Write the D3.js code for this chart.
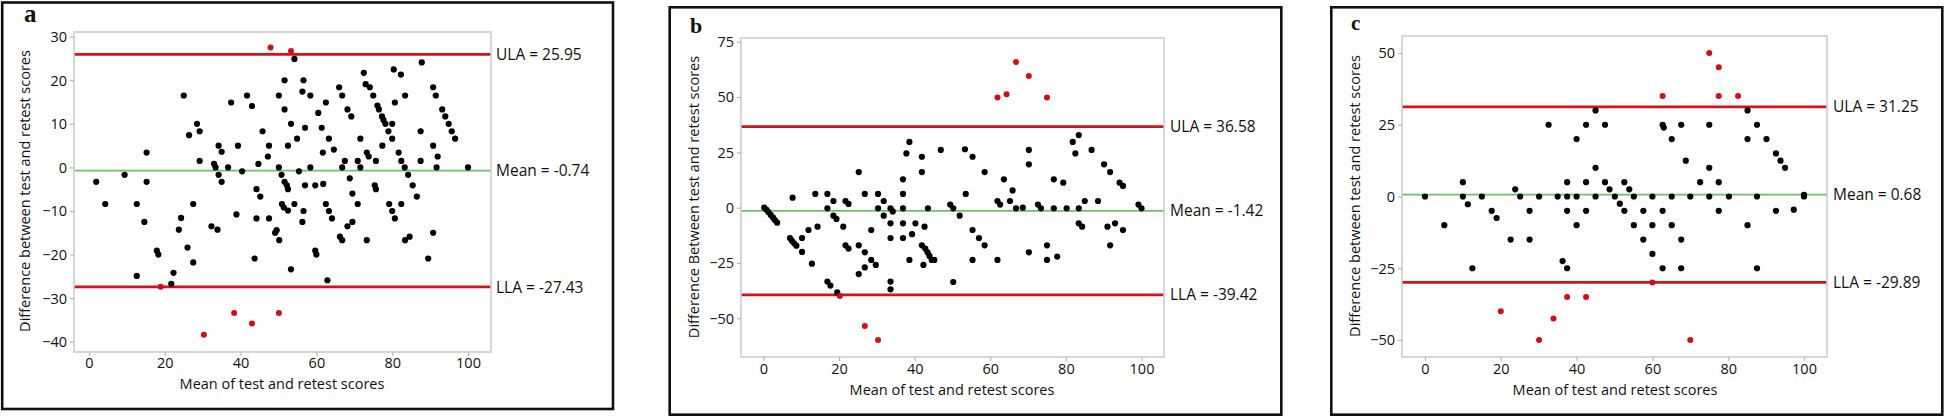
<!DOCTYPE html>
<html><head><meta charset="utf-8">
<script src="https://cdn.jsdelivr.net/npm/d3@7/dist/d3.min.js"></script>
<style>body{margin:0;background:#fff}svg{display:block}</style>
</head><body>
<svg id="chart" width="1946" height="418"></svg>
<script>
// ---------------- DATA ----------------
const xTicks = [0, 20, 40, 60, 80, 100];
const aYTicks = [-40, -30, -20, -10, 0, 10, 20, 30];
const bYTicks = [-50, -25, 0, 25, 50, 75];
const cYTicks = [-50, -25, 0, 25, 50];
const limitNames = ["ULA", "Mean", "LLA"];
const aLimits = [25.95, -0.74, -27.43];
const bLimits = [36.58, -1.42, -39.42];
const cLimits = [31.25, 0.68, -29.89];
const xTitle = "Mean of test and retest scores";
const aYTitle = "Difference between test and retest scores";
const bYTitle = "Difference Between test and retest scores";
const cYTitle = "Difference between test and retest scores";

// Panel a: [mean, difference]
const aRed = [[47.9,27.5],[53.3,26.7],[18.9,-27.4],[38.3,-33.4],[50.1,-33.4],[43.0,-35.8],[30.3,-38.4]];
const aBlack = [[1.9,-3.3],[4.3,-8.4],[9.4,-1.7],[12.6,-8.4],[12.6,-24.9],[14.6,-12.5],[15.2,3.4],[15.2,-3.3],
[17.9,-19.1],[18.3,-20.0],[21.7,-26.7],[22.3,-24.2],[23.7,-14.3],[24.3,-11.6],[25.0,16.5],[26.0,-18.4],[26.4,7.4],
[27.5,-8.4],[27.5,-21.8],[28.5,10.0],[29.2,8.3],[29.2,1.5],[32.3,-13.5],[33.0,0.8],[33.4,0],[33.9,-14.3],[34.2,5.0],
[34.2,-1.7],[35.0,3.6],[35.0,-3.3],[36.7,0],[37.5,14.9],[38.9,-10.8],[39.3,5.0],[40.4,-0.9],[41.7,16.5],[43.0,14.1],
[43.7,-20.9],[44.2,-5.0],[44.2,-11.7],[44.7,0.8],[45.2,-6.7],[45.8,8.3],[47.2,2.5],[47.5,5.0],[47.5,-11.7],[49.1,-15.0],
[49.5,-14.4],[50.1,16.5],[50.1,0],[50.2,-16.7],[50.8,-1.7],[50.9,-8.4],[51.4,-9.2],[51.6,20.0],[51.6,13.3],[51.6,-3.3],
[52.2,-4.1],[52.5,-5.0],[52.5,5.0],[52.5,-9.9],[53.3,10.0],[53.3,-23.4],[54.2,-8.4],[54.2,24.9],[54.9,6.6],[55.4,-0.9],
[56.3,17.4],[56.6,20.0],[56.6,-10.0],[56.3,-12.5],[57.0,9.1],[57.0,-4.1],[58.4,16.5],[58.4,0],[59.7,-4.1],[59.7,-19.1],
[60.0,-20.0],[60.5,12.5],[61.4,9.1],[61.7,3.4],[61.8,-3.8],[62.5,14.9],[62.5,-8.4],[62.9,-25.9],[63.3,6.6],[63.3,-10.0],
[64.1,-11.7],[64.6,4.1],[66.0,18.4],[66.2,-15.9],[66.8,-16.7],[66.8,16.5],[66.8,0],[67.5,1.5],[68.2,13.3],[68.2,-13.5],
[68.8,-2.5],[69.2,11.7],[69.5,-6.0],[69.5,-12.5],[70.9,-8.4],[70.9,1.5],[71.6,6.6],[71.6,0],[72.5,21.7],[73.0,19.1],
[73.3,-16.7],[73.3,3.4],[73.8,2.5],[74.1,18.4],[75.0,16.5],[75.4,-4.1],[75.7,-5.0],[75.7,1.5],[76.1,14.2],[76.5,13.3],
[77.3,11.7],[77.4,5.0],[77.7,10.9],[78.2,10.0],[79.0,8.3],[79.2,-8.4],[80.0,10.0],[80.0,6.6],[80.0,-10.0],[80.4,22.5],
[80.7,14.9],[80.7,-11.7],[81.7,3.4],[82.3,21.3],[82.4,1.5],[82.4,-8.4],[83.3,0],[83.4,16.5],[83.4,-16.7],[84.2,-1.7],
[84.6,-15.9],[85.4,-4.1],[86.5,-6.7],[87.5,8.3],[87.5,1.5],[87.8,24.1],[89.5,-20.9],[90.8,5.0],[90.8,18.4],[90.8,-15.0],
[91.5,16.5],[91.7,0],[92.0,2.5],[93.2,13.3],[94.0,11.7],[94.9,10.0],[95.7,8.3],[96.6,6.6],[100,0]];

// Panel b
const bRed = [[61.9,49.8],[64.3,51.3],[66.8,65.8],[70.2,59.5],[75.0,49.8],[20.2,-39.9],[26.8,-53.5],[30.3,-59.8]];
const bBlack = [[0.2,0],[0.8,-1],[1.3,-2],[1.9,-3.3],[2.5,-4.4],[3.0,-5.6],[3.6,-6.8],[7.7,4.5],[7.0,-13.7],[7.5,-14.9],
[8.1,-16.1],[8.7,-17.2],[10.2,-13.7],[10.2,-20],[11.9,-10.1],[12.8,-25.3],[13.7,6.2],[14.3,-8.6],[16.9,6.2],[16.9,-0.3],
[16.9,-33.4],[17.7,-35.2],[18.5,3.0],[18.5,-3.6],[19.3,-5.1],[19.5,-38.3],[21.1,-8.6],[21.7,3.0],[22.5,1.7],[21.7,-17.0],
[22.5,-18.5],[25.2,16.1],[25.2,-17.0],[25.2,-30.0],[26.8,6.2],[26.8,-20.2],[26.8,-27.0],[28.5,-10.1],[28.5,-23.6],
[29.7,-25.9],[30.3,6.2],[30.3,-0.3],[31.8,3.0],[31.8,-3.6],[33.6,-0.3],[33.6,-7.1],[33.6,-13.7],[33.6,-33.4],[33.6,-36.9],
[34.2,-1.7],[36.9,12.8],[36.9,6.2],[36.9,-0.3],[36.9,-7.1],[36.9,-13.7],[37.8,24.5],[38.6,29.7],[38.6,-23.6],[39.3,-12.0],
[40.2,-7.1],[41.9,23.0],[41.9,16.1],[41.9,-17.0],[42.6,-8.6],[42.3,-25.9],[42.8,-18.5],[43.4,-20.2],[43.5,-0.3],[43.9,-21.8],
[44.5,-23.6],[45.2,-23.6],[46.9,26.1],[49.4,1.4],[50.2,-0.3],[50.2,-33.6],[51.9,-3.6],[53.3,26.4],[53.5,6.2],[55.3,23.0],
[55.3,-10.1],[55.3,-23.6],[57.0,-13.7],[58.5,16.1],[58.5,-17.0],[61.9,3.0],[61.9,-23.6],[62.6,1.4],[63.6,12.8],[65.2,3.0],
[65.9,7.8],[66.8,-0.3],[68.6,0],[70.2,26.1],[70.2,19.6],[70.2,-20.2],[72.6,1.4],[73.4,-0.3],[75.0,-17.0],[75.0,-23.6],
[76.8,12.8],[76.8,-0.3],[77.7,-22.1],[79.3,11.3],[80.2,-0.3],[81.8,29.7],[82.5,24.5],[83.4,32.8],[83.4,-0.3],[83.4,-7.1],
[84.3,-8.6],[85.0,3.0],[86.8,26.1],[88.5,3.0],[90.1,19.6],[91.0,-8.6],[91.7,16.1],[91.7,-17.0],[93.0,-7.1],[94.2,11.3],
[95.1,9.8],[95.1,-10.1],[99.2,1.4],[100,-0.3]];

// Panel c
const cRed = [[75.0,50],[77.5,45],[62.7,35],[77.5,35],[82.6,35],[60.0,-30],[37.5,-35],[42.5,-35],[20.0,-40],[33.9,-42.5],[30.1,-50],[70.0,-50]];
const cBlack = [[0,0],[5.1,-10],[10.0,5],[10.0,0],[11.3,-2.7],[12.5,-25],[15.0,0],[17.6,-5],[18.9,-7.5],[22.6,-15],
[23.8,2.5],[25.1,0],[27.6,-5],[27.6,-15],[30.1,0],[32.6,25],[35.0,0],[36.3,-22.5],[37.5,-25],[37.5,5],[37.5,0],[37.5,-5],
[40.0,20],[40.0,0],[40.0,-10],[42.5,25],[42.5,5],[42.5,-5],[45.0,30],[45.0,10],[45.0,0],[47.5,25],[47.5,5],[48.7,2.5],
[50.1,0],[51.4,-2.5],[52.6,5],[52.6,-5],[53.9,2.5],[55.1,0],[55.1,-10],[57.6,-5],[57.6,-15],[60.0,0],[60.0,-10],[60.0,-20],
[62.7,25],[63.0,24],[62.7,-5],[62.7,-25],[65.1,20],[65.1,0],[65.1,-10],[67.6,25],[67.6,-15],[67.6,-25],[68.8,12.5],[70.0,0],
[72.6,5],[75.0,25],[75.0,10],[75.0,0],[77.5,5],[77.5,-5],[80.2,0],[85.1,30],[85.1,20],[85.1,-10],[87.6,25],[87.6,0],
[87.6,-25],[90.1,20],[92.6,15],[92.6,-5],[93.8,12.5],[95.0,10],[97.3,-4.6],[100,0.6],[100,0]];

// ---------------- LAYOUT ----------------
const FONT = "'Open Sans', 'Noto Sans', sans-serif";
const panels = [
  {letter:"a", letterX:24, letterY:22, letterSize:25, black:aBlack, red:aRed, yTicks:aYTicks, limits:aLimits, yTitle:aYTitle,
   box:[2.2,2.5,613,409], plot:[74,32,491,352], xr:[89,468], yd:[30,-40], yr:[36.7,341.7],
   yTitleX:30, yTitleY:191, xTitleX:282, xTitleY:389, xTickLabelY:368, labelX:496},
  {letter:"b", letterX:690, letterY:33, letterSize:22, black:bBlack, red:bRed, yTicks:bYTicks, limits:bLimits, yTitle:bYTitle,
   box:[669.7,7.3,1281.3,414.7], plot:[741,38,1164,357], xr:[763.5,1141.5], yd:[75,-50], yr:[41.7,318.3],
   yTitleX:699, yTitleY:197, xTitleX:952, xTitleY:395, xTickLabelY:374, labelX:1170},
  {letter:"c", letterX:1351, letterY:30, letterSize:21, black:cBlack, red:cRed, yTicks:cYTicks, limits:cLimits, yTitle:cYTitle,
   box:[1331.3,7.3,1942.3,414.7], plot:[1402,36,1827,357], xr:[1425,1804], yd:[50,-50], yr:[53,340],
   yTitleX:1360, yTitleY:196, xTitleX:1615, xTitleY:395, xTickLabelY:374, labelX:1833}
];

const svg = d3.select("#chart");
svg.append("rect").attr("width",1946).attr("height",418).attr("fill","#fff");

panels.forEach(p => {
  const g = svg.append("g");
  const [L,T,R,B] = p.plot;
  const x = d3.scaleLinear().domain([0,100]).range(p.xr);
  const y = d3.scaleLinear().domain(p.yd).range(p.yr);

  // outer box
  g.append("rect").attr("x",p.box[0]).attr("y",p.box[1])
    .attr("width",p.box[2]-p.box[0]).attr("height",p.box[3]-p.box[1])
    .attr("fill","none").attr("stroke","#111").attr("stroke-width",2.6);

  // plot frame
  g.append("rect").attr("x",L).attr("y",T).attr("width",R-L).attr("height",B-T)
    .attr("fill","#fff").attr("stroke","#c6c6c6").attr("stroke-width",1.4);

  // x axis
  const xAxis = d3.axisBottom(x).tickValues(xTicks).tickSize(4).tickPadding(3).tickSizeOuter(0);
  const xg = g.append("g").attr("transform",`translate(0,${B})`).call(xAxis);
  xg.select(".domain").remove();
  xg.selectAll(".tick line").attr("stroke","#b8b8b8").attr("stroke-width",1.2);
  xg.selectAll(".tick text").attr("y", p.xTickLabelY - B).attr("dy",0)
    .attr("font-family",FONT).attr("font-size",14.5).attr("fill","#111");

  // y axis
  const yAxis = d3.axisLeft(y).tickValues(p.yTicks).tickSize(4).tickPadding(3).tickSizeOuter(0);
  const yg = g.append("g").attr("transform",`translate(${L},0)`).call(yAxis);
  yg.select(".domain").remove();
  yg.selectAll(".tick line").attr("stroke","#b8b8b8").attr("stroke-width",1.2);
  yg.selectAll(".tick text").attr("font-family",FONT).attr("font-size",14.5).attr("fill","#111").attr("dy","0.34em");

  // reference lines
  p.limits.forEach((v,i) => {
    const isMean = i === 1;
    g.append("line").attr("x1",L+0.7).attr("x2",R-0.7).attr("y1",y(v)).attr("y2",y(v))
      .attr("stroke", isMean ? "#6cc06a" : "#d4121c").attr("stroke-width", isMean ? 1.8 : 2.8);
    g.append("text").attr("x",p.labelX).attr("y",y(v)).attr("dy","0.36em")
      .attr("font-family",FONT).attr("font-size",15.5).attr("fill","#111")
      .text(`${limitNames[i]} = ${v.toFixed(2)}`);
  });

  // points
  g.append("g").selectAll("circle").data(p.black).join("circle")
    .attr("cx",d=>x(d[0])).attr("cy",d=>y(d[1])).attr("r",3.1).attr("fill","#000");
  g.append("g").selectAll("circle").data(p.red).join("circle")
    .attr("cx",d=>x(d[0])).attr("cy",d=>y(d[1])).attr("r",3.0).attr("fill","#d40d14");

  // titles
  g.append("text").attr("x",p.xTitleX).attr("y",p.xTitleY).attr("text-anchor","middle")
    .attr("font-family",FONT).attr("font-size",14.5).attr("fill","#111").text(xTitle);
  g.append("text").attr("transform",`translate(${p.yTitleX},${p.yTitleY}) rotate(-90)`).attr("text-anchor","middle")
    .attr("font-family",FONT).attr("font-size",14.5).attr("fill","#111").text(p.yTitle);

  // panel letter
  g.append("text").attr("x",p.letterX).attr("y",p.letterY)
    .attr("font-family","'Liberation Serif','DejaVu Serif',serif").attr("font-weight","bold")
    .attr("font-size",p.letterSize).attr("fill","#111").text(p.letter);
});
</script>
</body></html>
